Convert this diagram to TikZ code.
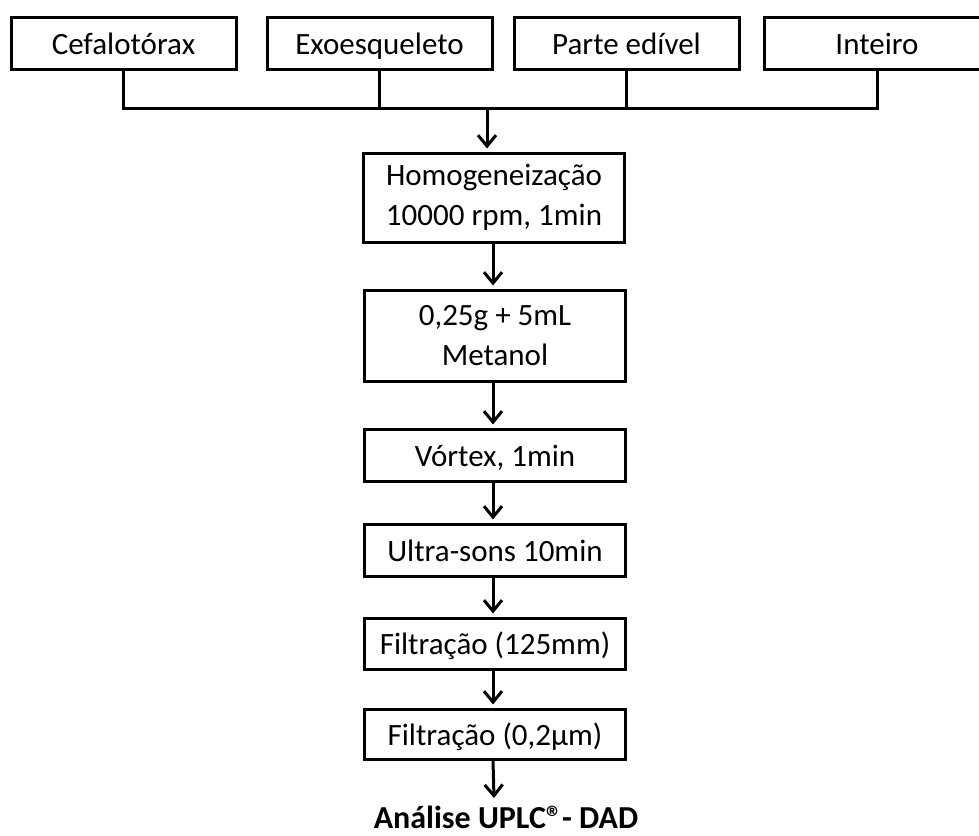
\documentclass[tikz,border=0pt]{standalone}
\usepackage{fontspec}
\setmainfont{Carlito}
\usetikzlibrary{arrows.meta}
\tikzset{
  topbox/.style={draw, line width=3pt, minimum width=225pt, minimum height=52pt, inner sep=0pt,
    font=\fontsize{31}{40}\selectfont, text height=26pt, text depth=4pt},
  stepbox/.style={draw, line width=3pt, minimum width=261pt, inner sep=0pt,
    font=\fontsize{31}{40}\selectfont, align=center},
  onebox/.style={stepbox, minimum height=52pt, text height=26pt, text depth=4pt},
  link/.style={line width=3pt},
  flow/.style={line width=3pt, -{Straight Barb[length=11pt,width=18pt,line width=3pt]}, shorten >=3pt}
}
\begin{document}
\begin{tikzpicture}[x=1pt,y=-1pt]
\clip (0,0) rectangle (979,835);
\node[topbox] (c1) at (123.5,43) {Cefalotórax};
\node[topbox] (c2) at (379.5,43) {Exoesqueleto};
\node[topbox] (c3) at (626.5,43) {Parte edível};
\node[topbox] (c4) at (877,43) {Inteiro};
\coordinate (bar) at (487,108);
\node[stepbox, minimum height=89pt] (h) at (494,197.5) {Homogeneização\\10000 rpm, 1min};
\node[stepbox, minimum height=91pt] (m) at (495,335.5) {0,25g + 5mL\\Metanol};
\node[onebox] (v) at (495,455) {Vórtex, 1min};
\node[onebox] (u) at (495,550) {Ultra-sons 10min};
\node[onebox, minimum height=51pt] (f1) at (495,643.5) {Filtração (125mm)};
\node[onebox, minimum height=50pt] (f2) at (495,734) {Filtração (0,2µm)};
\node[anchor=base, inner sep=0pt, font=\fontsize{32}{38}\selectfont\bfseries] (a) at (506,828) {Análise UPLC®- DAD};
\coordinate (aend) at (494,798);
\draw[link] (c1.south) -- (c1.south |- bar) -- (c4.south |- bar) -- (c4.south);
\draw[link] (c2.south) -- (c2.south |- bar);
\draw[link] (c3.south) -- (c3.south |- bar);
\draw[flow] (bar) -- (h.north -| bar);
\draw[flow] (h.south -| 493,0) -- (m.north -| 493,0);
\draw[flow] (m.south -| 493,0) -- (v.north -| 493,0);
\draw[flow] (v.south -| 493,0) -- (u.north -| 493,0);
\draw[flow] (u.south -| 493,0) -- (f1.north -| 493,0);
\draw[flow] (f1.south -| 493,0) -- (f2.north -| 493,0);
\draw[flow, shorten >=0pt] (f2.south -| 493,0) -- (aend);
\end{tikzpicture}
\end{document}
